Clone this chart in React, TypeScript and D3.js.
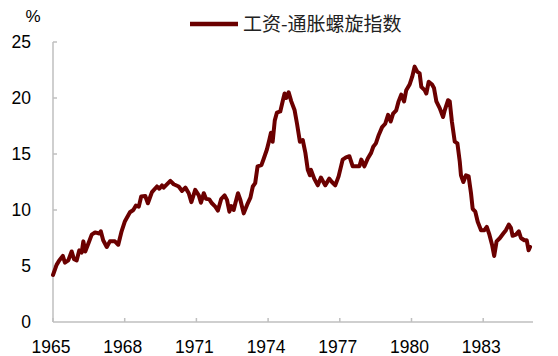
import React from "react";
import * as d3 from "d3";

// Wage-price spiral index, decimal year offsets from Jan 1965 and values (%)
const yearOffsets: number[] = [
  0.0, 0.15, 0.26, 0.41, 0.5, 0.64, 0.78, 0.88, 0.99, 1.1, 1.2, 1.27, 1.35, 1.48, 1.62, 1.76, 1.94, 2.0,
  2.1, 2.25, 2.38, 2.59, 2.73, 2.87, 3.01, 3.22, 3.36, 3.47, 3.59, 3.69, 3.86, 3.97, 4.14, 4.35, 4.45,
  4.56, 4.63, 4.91, 5.05, 5.26, 5.4, 5.54, 5.68, 5.79, 5.95, 6.1, 6.19, 6.31, 6.4, 6.54, 6.65, 6.79,
  6.9, 7.04, 7.18, 7.28, 7.38, 7.46, 7.56, 7.63, 7.74, 7.84, 7.98, 8.12, 8.26, 8.36, 8.46, 8.56, 8.72,
  8.82, 8.95, 9.05, 9.12, 9.19, 9.28, 9.37, 9.51, 9.62, 9.69, 9.76, 9.86, 9.97, 10.11, 10.21, 10.33,
  10.45, 10.56, 10.66, 10.75, 10.79, 10.93, 11.08, 11.21, 11.39, 11.56, 11.67, 11.81, 11.95, 12.12,
  12.26, 12.4, 12.54, 12.71, 12.82, 12.9, 13.03, 13.17, 13.31, 13.4, 13.51, 13.63, 13.77, 13.9, 14.02,
  14.13, 14.23, 14.36, 14.46, 14.57, 14.69, 14.78, 14.92, 15.03, 15.13, 15.24, 15.34, 15.41, 15.55,
  15.62, 15.72, 15.86, 15.94, 16.04, 16.18, 16.32, 16.39, 16.53, 16.6, 16.69, 16.81, 16.92, 17.02,
  17.07, 17.17, 17.28, 17.39, 17.49, 17.56, 17.67, 17.77, 17.91, 18.05, 18.15, 18.26, 18.37, 18.46,
  18.56, 18.7, 18.84, 18.95, 19.07, 19.16, 19.23, 19.37, 19.49, 19.58, 19.72, 19.82, 19.9, 19.96,
];

const indexValues: number[] = [
  4.2, 5.1, 5.5, 5.9, 5.3, 5.5, 6.3, 5.6, 5.5, 6.4, 6.2, 7.2, 6.3, 7.0, 7.8, 8.0, 7.9, 8.1,
  7.3, 6.7, 7.2, 7.2, 6.9, 8.1, 9.0, 9.8, 10.0, 10.4, 10.3, 11.2, 11.25, 10.6, 11.6, 12.1, 11.9,
  12.2, 12.0, 12.6, 12.3, 12.1, 11.7, 12.0, 11.5, 10.7, 11.8, 11.3, 10.65, 11.5, 11.0, 10.95, 10.6, 10.3,
  9.95, 11.0, 11.3, 10.9, 9.85, 10.35, 10.0, 10.6, 11.5, 10.9, 9.7, 10.45, 11.1, 12.1, 12.4, 13.9, 14.0,
  14.6, 15.4, 16.25, 16.9, 16.1, 18.0, 18.7, 18.8, 19.8, 20.4, 20.0, 20.5, 19.7, 18.9, 17.7, 16.1,
  16.25, 15.1, 13.6, 13.1, 13.6, 12.8, 12.2, 12.9, 12.2, 12.8, 12.5, 12.2, 13.0, 14.5,
  14.7, 14.8, 13.9, 13.9, 13.9, 14.5, 13.9, 14.6, 15.1, 15.65, 15.95, 16.7, 17.4, 17.7, 18.5,
  17.9, 18.6, 18.9, 19.7, 20.3, 19.7, 20.7, 21.2, 21.9, 22.8, 22.35, 22.2, 21.0, 20.7,
  20.4, 21.45, 21.2, 20.9, 19.7, 19.1, 18.3, 18.9, 19.8, 19.7, 17.9, 16.1, 15.95, 14.3,
  13.1, 12.5, 13.1, 13.0, 11.5, 10.1, 9.85, 8.95, 8.2, 8.2, 8.5, 7.8, 6.9, 5.9,
  7.2, 7.5, 7.9, 8.2, 8.7, 8.4, 7.7, 7.8, 8.1, 7.5, 7.3, 7.3, 6.4, 6.7,
];

const startYear = 1965;
const xTickYears: number[] = [1965, 1968, 1971, 1974, 1977, 1980, 1983];
const yTickValues: number[] = [0, 5, 10, 15, 20, 25];
const seriesName = "工资-通胀螺旋指数";
const unitLabel = "%";

const W = 558;
const H = 356;
const left = 53;
const right = 531;
const top = 42;
const bottom = 322;
const lineColor = "#6b0000";
const axisColor = "#bfbfbf";
const font = "'Liberation Sans', Arial, sans-serif";

export default function App() {
  const x = d3.scaleLinear().domain([1965, 1985]).range([left, right]);
  const y = d3.scaleLinear().domain([0, 25]).range([bottom, top]);
  const data = yearOffsets.map((t, i) => [startYear + t, indexValues[i]] as [number, number]);
  const line = d3
    .line<[number, number]>()
    .x((d) => x(d[0]))
    .y((d) => y(d[1]))
    .curve(d3.curveLinear);

  return (
    <svg
      width={W}
      height={H}
      style={{ position: "absolute", left: 0, top: 0, background: "#fff" }}
      fontFamily={font}
    >
      {/* y axis */}
      <line x1={left} x2={left} y1={top} y2={bottom} stroke={axisColor} strokeWidth={1.5} />
      {yTickValues.map((v) => (
        <g key={"y" + v}>
          {v > 0 && (
            <line x1={left} x2={left + 4} y1={y(v)} y2={y(v)} stroke={axisColor} strokeWidth={1.5} />
          )}
          <text x={31} y={y(v)} dy="0.35em" textAnchor="end" fontSize={17.5} fill="#000">
            {v}
          </text>
        </g>
      ))}
      {/* x axis */}
      <line x1={left} x2={right + 2} y1={bottom} y2={bottom} stroke={axisColor} strokeWidth={1.5} />
      {xTickYears.map((yr) => (
        <g key={"x" + yr}>
          <line x1={x(yr)} x2={x(yr)} y1={bottom} y2={bottom - 4} stroke={axisColor} strokeWidth={1.5} />
          <text x={x(yr) - 2} y={353} textAnchor="middle" fontSize={17.5} fill="#000">
            {yr}
          </text>
        </g>
      ))}
      <text x={33} y={16} dy="0.35em" textAnchor="middle" fontSize={17} fill="#000">
        {unitLabel}
      </text>
      {/* legend */}
      <line x1={190} x2={238} y1={24} y2={24} stroke={lineColor} strokeWidth={4.5} />
      <text
        x={243}
        y={24}
        dy="0.36em"
        fontSize={19}
        fill="#222"
        fontFamily="'Noto Sans CJK SC', sans-serif"
      >
        {seriesName}
      </text>
      {/* series */}
      <path
        d={line(data) || ""}
        fill="none"
        stroke={lineColor}
        strokeWidth={4}
        strokeLinejoin="round"
        strokeLinecap="round"
      />
    </svg>
  );
}
